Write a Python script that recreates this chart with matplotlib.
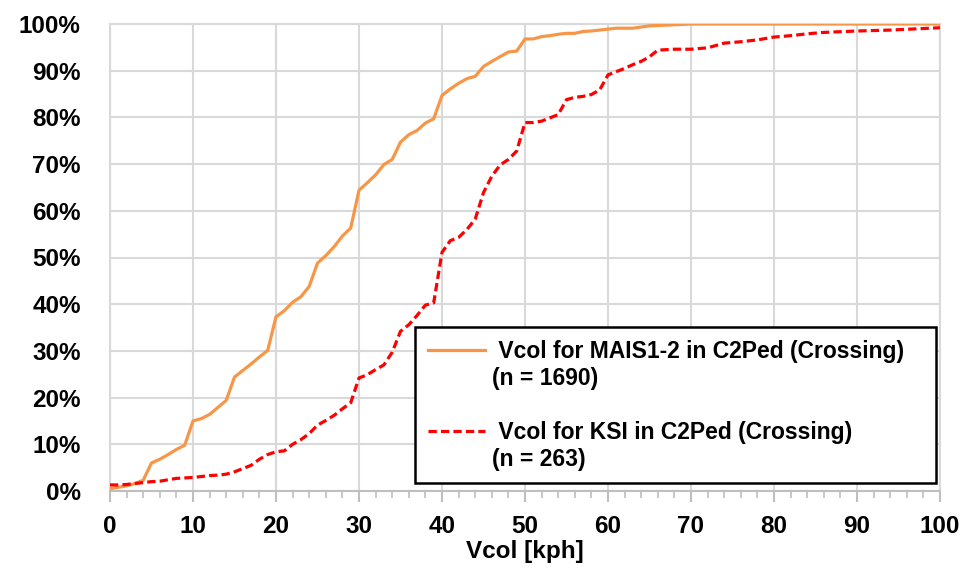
import matplotlib
matplotlib.use("Agg")
import matplotlib.pyplot as plt
from matplotlib.ticker import MultipleLocator, FuncFormatter

# ---- data ----
mais_x = list(range(0, 62)) + [63, 65, 70, 100]
mais_y = [0.5, 0.8, 1.1, 1.6, 2.3, 6.0, 6.8, 7.8, 8.9, 9.8,
          15.0, 15.5, 16.4, 17.9, 19.4, 24.4, 25.8, 27.2, 28.7, 30.1,
          37.3, 38.6, 40.4, 41.6, 43.8, 48.8, 50.4, 52.3, 54.6, 56.3,
          64.4, 66.0, 67.7, 69.9, 71.0, 74.7, 76.3, 77.2, 78.8, 79.7,
          84.7, 86.1, 87.3, 88.3, 88.8, 90.9, 92.0, 93.0, 94.0, 94.2,
          96.8, 96.8, 97.3, 97.5, 97.8, 98.0, 98.0, 98.4, 98.5, 98.7,
          98.9, 99.1, 99.1, 99.6, 100.0, 100.0]

ksi_x = list(range(0, 67)) + [68, 70, 72, 74, 76, 78, 80, 82, 84, 86, 90, 94, 100]
ksi_y = [1.3, 1.3, 1.4, 1.6, 1.8, 2.0, 2.1, 2.4, 2.7, 2.8,
         2.9, 3.1, 3.3, 3.4, 3.6, 4.1, 4.8, 5.5, 6.8, 7.8,
         8.4, 8.6, 10.0, 11.0, 12.3, 14.1, 15.1, 16.2, 17.6, 18.9,
         24.2, 24.9, 26.0, 27.0, 29.7, 34.2, 35.6, 37.6, 39.8, 40.3,
         51.1, 53.6, 54.3, 56.0, 58.2, 63.9, 67.4, 69.8, 71.0, 72.8,
         78.9, 78.9, 79.2, 79.9, 80.6, 83.8, 84.3, 84.5, 84.9, 85.9,
         89.1, 89.8, 90.5, 91.3, 92.0, 93.0, 94.4,
         94.6, 94.6, 94.9, 95.9, 96.2, 96.6, 97.2, 97.5, 97.9, 98.2, 98.5, 98.7, 99.2]

mais_label = " Vcol for MAIS1-2 in C2Ped (Crossing)   "
mais_n = "(n = 1690)\n"
ksi_label = " Vcol for KSI in C2Ped (Crossing)"
ksi_n = "(n = 263)"
x_label = "Vcol [kph]"

plt.rcParams['font.family'] = ['Liberation Sans', 'DejaVu Sans']
plt.rcParams['font.weight'] = 'bold'

fig = plt.figure(figsize=(9.69, 5.70), dpi=100)
ax = fig.add_axes([110/969, 79/570, 830/969, 467/570])

grid_c = '#d9d9d9'
l1, = ax.plot(mais_x, mais_y, color='#F79646', lw=2.3, zorder=3)
l2, = ax.plot(ksi_x, ksi_y, color='#FF0000', lw=2.3, dashes=(2.6, 1.3), zorder=3)
b1, = ax.plot([], [], color='none')
b2, = ax.plot([], [], color='none')

ax.set_xlim(0, 100)
ax.set_ylim(0, 100)
ax.xaxis.set_major_locator(MultipleLocator(10))
ax.xaxis.set_minor_locator(MultipleLocator(2))
ax.yaxis.set_major_locator(MultipleLocator(10))
ax.yaxis.set_major_formatter(FuncFormatter(lambda v, p: f"{int(round(v))}%"))

ax.grid(True, which='major', color=grid_c, lw=1.5, zorder=0)
ax.set_axisbelow(True)
for s in ['top', 'right', 'left']:
    ax.spines[s].set_color(grid_c)
    ax.spines[s].set_linewidth(1.5)
ax.spines['bottom'].set_color('#bfbfbf')
ax.spines['bottom'].set_linewidth(1.5)

ax.tick_params(axis='x', which='major', direction='out', length=8, width=1.5,
               color='#bfbfbf', labelsize=17.5, pad=9)
ax.tick_params(axis='x', which='minor', direction='out', length=5, width=1.2,
               color='#bfbfbf')
ax.tick_params(axis='y', which='major', length=0, labelsize=17.5, pad=21)
for lab in ax.get_xticklabels() + ax.get_yticklabels():
    lab.set_fontweight('bold')

ax.set_xlabel(x_label, fontsize=17.5, fontweight='bold', labelpad=2)

leg = ax.legend([l1, b1, l2, b2], [mais_label, mais_n, ksi_label, ksi_n],
                loc='upper left', bbox_to_anchor=(0.3675, 0.351), fontsize=16.5,
                frameon=True, fancybox=False, framealpha=1, edgecolor='black',
                handlelength=2.5, handletextpad=0.3, labelspacing=0.18,
                borderpad=0.55, borderaxespad=0)
leg.get_frame().set_linewidth(1.8)
for t in leg.get_texts():
    t.set_fontweight('bold')

fig.savefig('out.png', dpi=100)
